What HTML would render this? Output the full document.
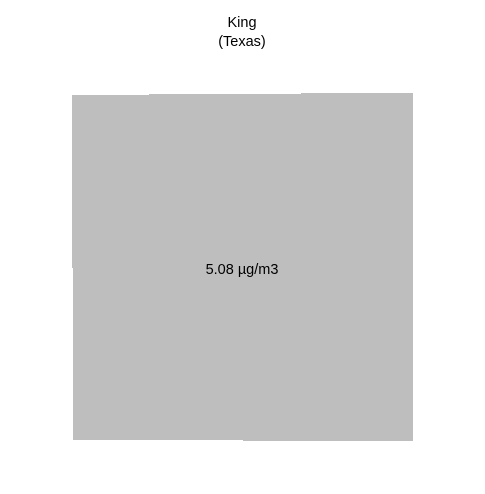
<!DOCTYPE html>
<html><head><meta charset="utf-8"><style>
html,body{margin:0;padding:0;background:#fff;width:485px;height:494px;overflow:hidden;}
text{font-family:"Liberation Sans",Arial,sans-serif;font-size:14.5px;fill:#000;}
</style></head><body>
<svg width="485" height="494" viewBox="0 0 485 494">
<text x="242" y="27" text-anchor="middle">King</text>
<text x="242" y="46" text-anchor="middle">(Texas)</text>
<polygon fill="#bebebe"
 points="72,95 149,95 149,94 301,94 301,93 413,93 413,441 243,441 243,440 73,440 73,268 72,268"/>
<text x="242" y="274" text-anchor="middle">5.08 µg/m3</text>
</svg>
</body></html>
